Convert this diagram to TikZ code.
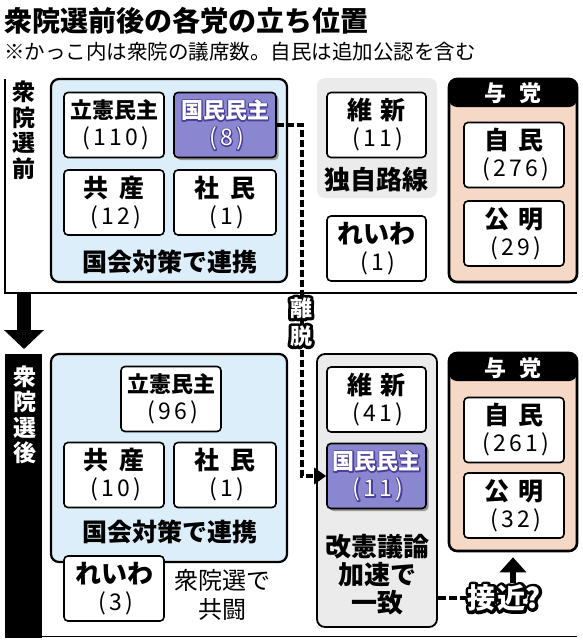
\documentclass[tikz,border=0pt]{standalone}
\usepackage{fontspec}
\setmainfont{Noto Sans CJK JP}
\usetikzlibrary{arrows.meta,shadows}
\definecolor{lblue}{HTML}{DCEEF9}
\definecolor{lgray}{HTML}{EBEBEB}
\definecolor{peach}{HTML}{F5D8C6}
\definecolor{kpurple}{HTML}{8B86D0}
\definecolor{kdark}{HTML}{4A3F9A}
\newcommand\nm[1]{{\fontsize{23}{27}\selectfont\addfontfeature{LetterSpace=14}\hspace{0.14em}#1}}
\newcommand\pn[1]{{\bfseries #1}}
\newcommand\pnb[1]{{\bfseries\fontsize{25}{27}\selectfont #1}}
% outlined text: stroke-only copy underneath, filled copy on top
\newcommand\halo[4]{%
  \rlap{\special{pdf:literal direct #1 w 1 j 1 J 1 Tr}\textcolor{#2}{#4}\special{pdf:literal direct 0 Tr}}%
  \textcolor{#3}{#4}}
\begin{document}
\begin{tikzpicture}[x=1pt,y=-1pt,
  pbox/.style={draw, line width=1.6pt, fill=white, rounded corners=4pt, inner sep=0pt,
    align=center, font=\fontsize{22}{27}\selectfont, minimum width=100pt, minimum height=65pt},
  kbox/.style={pbox, fill=kpurple, drop shadow={shadow xshift=2.5pt, shadow yshift=-2.5pt, fill=black!40, opacity=1}},
  grp/.style={rounded corners=8pt, inner sep=0pt},
  bluegrp/.style={grp, draw, line width=2.2pt, fill=lblue},
  graygrp/.style={grp, fill=lgray},
  graygrpb/.style={graygrp, draw, line width=1.8pt},
  yotogrp/.style={grp, draw, line width=2.6pt, fill=peach,
    path picture={\fill[black] (path picture bounding box.north west) rectangle ([yshift=-28pt]path picture bounding box.north east);}},
  hdr/.style={text=white, font=\bfseries\fontsize{22}{24}\selectfont, inner sep=0pt},
  lbl/.style={font=\bfseries\fontsize{25}{28}\selectfont, inner sep=0pt, align=center},
  vlbl/.style={font=\bfseries\fontsize{23}{25.5}\selectfont, inner sep=0pt, align=center},
  frameline/.style={line width=1.8pt},
  ridash/.style={line width=4.5pt, dash pattern=on 7pt off 3pt, -{Triangle[length=12pt,width=16pt]}},
  sdash/.style={line width=4.5pt, dash pattern=on 8pt off 3pt},
  haloText/.style={inner sep=1pt, align=center}
]
\useasboundingbox (0,0) rectangle (582,640);
\fill[white] (0,0) rectangle (582,640);

% title
\node[anchor=west, inner sep=0pt, font=\bfseries\fontsize{28}{30}\selectfont] (title) at (4,21) {衆院選前後の各党の立ち位置};
\node[anchor=west, inner sep=0pt, font=\fontsize{20.5}{24}\selectfont] (subtitle) at (4,52) {※かっこ内は衆院の議席数。自民は追加公認を含む};

% section frames
\draw[frameline] (5,79) -- (5,293) -- (577,293);
\fill[black] (5,354) rectangle (42,638);
\draw[frameline] (42,636.5) -- (577,636.5);
\coordinate (secA) at (24,293);
\coordinate (secB) at (24,349);
\draw[line width=14pt, -{Triangle[length=19pt,width=39pt]}] (secA) -- (secB);

\node[vlbl] (zen) at (24,130) {衆\\院\\選\\前};
\node[vlbl, text=white] (go) at (24.5,415) {衆\\院\\選\\後};

% ===== upper =====
\node[bluegrp, minimum width=236pt, minimum height=203pt] (blue1) at (169,180.5) {};
\node[graygrp, minimum width=120pt, minimum height=120pt] (gray1) at (377,138) {};
\node[yotogrp, minimum width=128pt, minimum height=203pt] (yoto1) at (513,180.5) {};
\node[hdr] (yoto1h) at (513,93) {与\hspace{13pt}党};

\node[pbox] (rikken1) at (114,125) {\pn{立憲民主}\\\nm{(110)}};
\node[kbox, minimum width=102pt] (kokumin1) at (225,125) {\halo{2.4}{kdark}{white}{\pn{国民民主}}\\\halo{2.4}{kdark}{white}{\nm{(8)}}};
\node[pbox] (kyosan1) at (114,202.5) {\pnb{共\hspace{0.45em}産}\\\nm{(12)}};
\node[pbox, minimum width=102pt] (shamin1) at (225,202.5) {\pnb{社\hspace{0.45em}民}\\\nm{(1)}};
\node[lbl] (renkei1) at (170,262) {国会対策で連携};

\node[pbox, minimum width=99pt] (ishin1) at (376.5,125) {\pnb{維\hspace{0.3em}新}\\\nm{(11)}};
\node[lbl, font=\bfseries\fontsize{26}{28}\selectfont] (dokuji) at (376,180) {独自路線};
\node[pbox, minimum width=99pt] (reiwa1) at (376.5,248.5) {{\bfseries\fontsize{26}{27}\selectfont れいわ}\\\nm{(1)}};

\node[pbox] (jimin1) at (514,155) {\pnb{自\hspace{0.4em}民}\\\nm{(276)}};
\node[pbox] (komei1) at (514,233.5) {\pnb{公\hspace{0.4em}明}\\\nm{(29)}};

% ===== lower =====
\node[bluegrp, minimum width=236pt, minimum height=208pt] (blue2) at (169,458) {};
\node[graygrpb, minimum width=120pt, minimum height=273pt] (gray2) at (377,490.5) {};
\node[yotogrp, minimum width=128pt, minimum height=198pt] (yoto2) at (513,452) {};
\node[hdr] (yoto2h) at (513,368) {与\hspace{13pt}党};

\node[pbox] (rikken2) at (171,399) {\pn{立憲民主}\\\nm{(96)}};
\node[pbox] (kyosan2) at (114,475) {\pnb{共\hspace{0.45em}産}\\\nm{(10)}};
\node[pbox, minimum width=102pt] (shamin2) at (225,475) {\pnb{社\hspace{0.45em}民}\\\nm{(1)}};
\node[lbl] (renkei2) at (170,532) {国会対策で連携};
\node[pbox] (reiwa2) at (114,588.5) {{\bfseries\fontsize{26}{27}\selectfont れいわ}\\\nm{(3)}};
\node[align=center, inner sep=0pt, font=\fontsize{24}{29}\selectfont] (kyoto) at (222,595) {衆院選で\\共闘};

\node[pbox, minimum width=99pt] (ishin2) at (376.5,399.5) {\pnb{維\hspace{0.3em}新}\\\nm{(41)}};
\node[kbox, minimum width=99pt] (kokumin2) at (376.5,476) {\halo{2.4}{kdark}{white}{\pn{国民民主}}\\\halo{2.4}{kdark}{white}{\nm{(11)}}};
\node[lbl, font=\bfseries\fontsize{26}{28}\selectfont] (kaiken) at (377,575) {改憲議論\\加速で\\一致};

\node[pbox] (jimin2) at (514,430) {\pnb{自\hspace{0.4em}民}\\\nm{(261)}};
\node[pbox] (komei2) at (514,505.5) {\pnb{公\hspace{0.4em}明}\\\nm{(32)}};

% ===== connectors =====
\coordinate (rdx) at (302,300);
\draw[ridash] (kokumin1.east) -| (rdx) |- (kokumin2.west);
\node[haloText, font=\bfseries\fontsize{22}{28}\selectfont] (ridatsu) at (301,322) {\halo{6}{black}{white}{離}\\\halo{6}{black}{white}{脱}};

\node[haloText, font=\bfseries\fontsize{28}{30}\selectfont] (sekkin) at (504,598) {\halo{6}{black}{white}{接\hspace{2pt}近?}};
\draw[sdash] (gray2.east |- sekkin.west) -- (sekkin.west);
\draw[line width=6pt, -{Triangle[length=15pt,width=26pt]}, shorten >=5pt] (sekkin.north -| yoto2.south) -- (yoto2.south);
\end{tikzpicture}
\end{document}
